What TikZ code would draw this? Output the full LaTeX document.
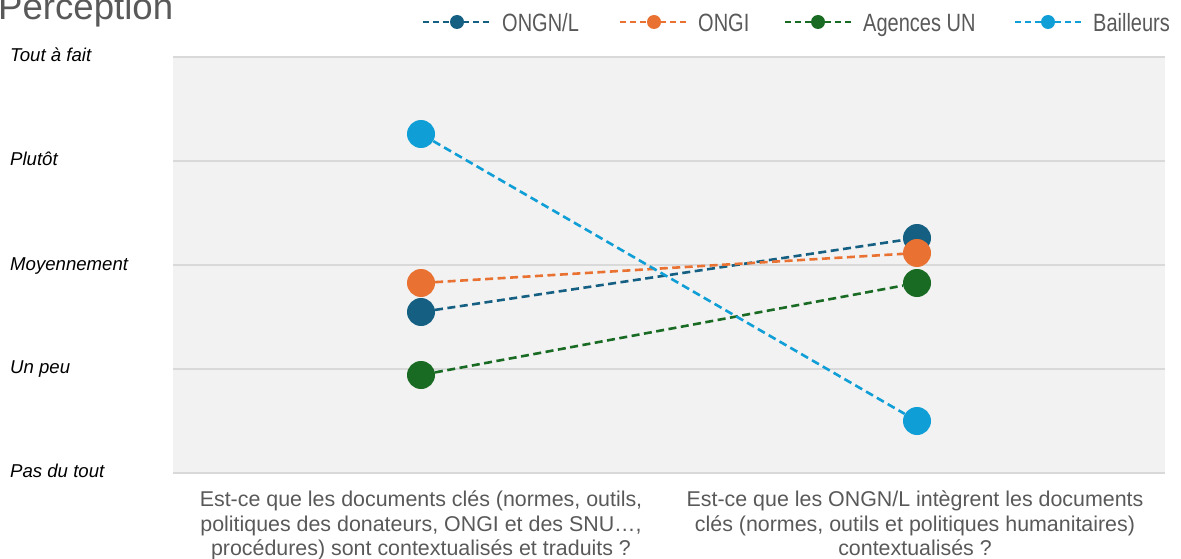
\documentclass[tikz,border=0pt]{standalone}
\usepackage{fontspec}
\setmainfont{Liberation Sans}
\newfontfamily\legendfont[FakeStretch=0.8]{Liberation Sans}
\usepackage{tikz}
\definecolor{ongnl}{HTML}{156082}
\definecolor{ongi}{HTML}{E97132}
\definecolor{agun}{HTML}{196B24}
\definecolor{bail}{HTML}{0F9ED5}
\definecolor{txtgray}{HTML}{595959}
\definecolor{plotbg}{HTML}{F2F2F2}
\definecolor{gridgray}{HTML}{D9D9D9}

\begin{document}
\begin{tikzpicture}[x=1pt,y=-1pt,
	bigdot/.style={circle,fill=#1,minimum size=28pt,inner sep=0pt},
	smalldot/.style={circle,fill=#1,minimum size=14pt,inner sep=0pt},
	trend/.style={#1,dash pattern=on 8pt off 4.5pt,line width=2.6pt},
	legline/.style={#1,dash pattern=on 6pt off 4pt,line width=2.6pt},
	leglabel/.style={anchor=base west,inner sep=0pt,text=txtgray,font=\legendfont\fontsize{25}{28}\selectfont},
	scalelabel/.style={anchor=base west,inner sep=0pt,font=\fontsize{18.6}{22}\selectfont\itshape},
	question/.style={anchor=north,inner sep=0pt,align=center,text=txtgray,font=\fontsize{21.4}{24.5}\selectfont}]
	\useasboundingbox (0,0) rectangle (1181,559);

	% plot area
	\fill[plotbg] (173,57) rectangle (1165,473);
	\foreach \y in {57,161,265,369,473}
		\draw[gridgray,line width=1.5pt] (173,\y) -- (1165,\y);

	% title
	\node[anchor=base west,inner sep=0pt,text=txtgray,font=\fontsize{36.6}{40}\selectfont] (title) at (-2,20) {Perception};

	% scale
	\node[scalelabel] (s4) at (10,62) {Tout à fait};
	\node[scalelabel] (s3) at (10,166) {Plutôt};
	\node[scalelabel] (s2) at (10,270) {Moyennement};
	\node[scalelabel] (s1) at (10,373) {Un peu};
	\node[scalelabel] (s0) at (10,477) {Pas du tout};

	% legend
	\coordinate (la1) at (423,22); \coordinate (la2) at (490,22);
	\draw[legline=ongnl] (la1) -- (la2);
	\node[smalldot=ongnl] (lam) at (457,22) {};
	\node[leglabel] (lat) at (502,32) {ONGN/L};
	\coordinate (lb1) at (620,22); \coordinate (lb2) at (687,22);
	\draw[legline=ongi] (lb1) -- (lb2);
	\node[smalldot=ongi] (lbm) at (654,22) {};
	\node[leglabel] (lbt) at (698,32) {ONGI};
	\coordinate (lc1) at (785,22); \coordinate (lc2) at (852,22);
	\draw[legline=agun] (lc1) -- (lc2);
	\node[smalldot=agun] (lcm) at (818,22) {};
	\node[leglabel] (lct) at (863,32) {Agences UN};
	\coordinate (ld1) at (1015,22); \coordinate (ld2) at (1082,22);
	\draw[legline=bail] (ld1) -- (ld2);
	\node[smalldot=bail] (ldm) at (1048,22) {};
	\node[leglabel] (ldt) at (1093,32) {Bailleurs};

	% points
	\node[bigdot=ongnl] (nl1) at (421,312) {};
	\node[bigdot=ongnl] (nl2) at (917,238) {};
	\node[bigdot=ongi] (gi1) at (421,283) {};
	\node[bigdot=ongi] (gi2) at (917,253) {};
	\node[bigdot=agun] (un1) at (421,375) {};
	\node[bigdot=agun] (un2) at (917,283) {};
	\node[bigdot=bail] (ba1) at (421,134) {};
	\node[bigdot=bail] (ba2) at (917,421) {};

	\draw[trend=ongnl] (nl1) -- (nl2);
	\draw[trend=ongi] (gi1) -- (gi2);
	\draw[trend=agun] (un1) -- (un2);
	\draw[trend=bail] (ba1) -- (ba2);

	% questions
	\node[question] (q1) at (421,491) {Est-ce que les documents clés (normes, outils,\\politiques des donateurs, ONGI et des SNU\ldots,\\procédures) sont contextualisés et traduits ?};
	\node[question] (q2) at (915,491) {Est-ce que les ONGN/L intègrent les documents\\clés (normes, outils et politiques humanitaires)\\contextualisés ?};
\end{tikzpicture}
\end{document}
